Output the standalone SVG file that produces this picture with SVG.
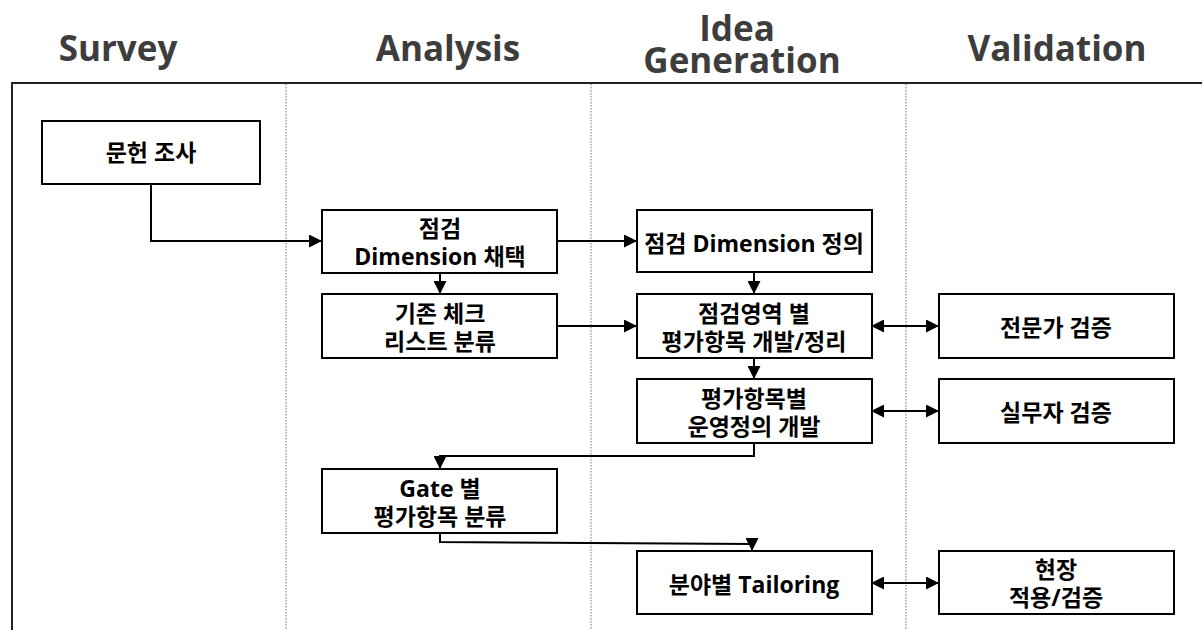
<svg xmlns="http://www.w3.org/2000/svg" width="1202" height="630" viewBox="0 0 1202 630">
<style>
.hdr{font-family:"Open Sans","Noto Sans CJK KR",sans-serif;font-weight:700;font-size:35px;fill:#3d3d3d;text-anchor:middle}
.box{fill:#fff;stroke:#000;stroke-width:2}
.lbl{font-family:"Open Sans","Noto Sans CJK KR",sans-serif;font-weight:700;font-size:23px;fill:#000;text-anchor:middle}
.con{fill:none;stroke:#000;stroke-width:2}
.dot{stroke:#8a8a8a;stroke-width:1.2;stroke-dasharray:1.5 1.5}
</style>
<defs>
<marker id="ah" markerUnits="userSpaceOnUse" markerWidth="13" markerHeight="13" viewBox="0 0 13 13" refX="12" refY="6.5" orient="auto-start-reverse">
<path d="M0,0 L13,6.5 L0,13 z" fill="#000"/>
</marker>
</defs>
<rect width="1202" height="630" fill="#fff"/>
<g id="headers">
<text class="hdr" x="118" y="61">Survey</text>
<text class="hdr" x="448" y="61">Analysis</text>
<text class="hdr" x="737" y="41">Idea</text>
<text class="hdr" x="742" y="73">Generation</text>
<text class="hdr" x="1057" y="61">Validation</text>
</g>
<g id="frame">
<path d="M12,630 V83 H1202" fill="none" stroke="#222" stroke-width="2"/>
<line class="dot" x1="286" y1="84" x2="286" y2="630"/>
<line class="dot" x1="591" y1="84" x2="591" y2="630"/>
<line class="dot" x1="906" y1="84" x2="906" y2="630"/>
</g>
<g id="connectors">
<path class="con" d="M151,184 V241 H321" marker-end="url(#ah)"/>
<path class="con" d="M557,241 H636" marker-end="url(#ah)"/>
<path class="con" d="M440,273 V293" marker-end="url(#ah)"/>
<path class="con" d="M557,326 H636" marker-end="url(#ah)"/>
<path class="con" d="M754,272 V293" marker-end="url(#ah)"/>
<path class="con" d="M754,358 V378" marker-end="url(#ah)"/>
<path class="con" d="M872,326 H938" marker-start="url(#ah)" marker-end="url(#ah)"/>
<path class="con" d="M872,411 H938" marker-start="url(#ah)" marker-end="url(#ah)"/>
<path class="con" d="M754,443 V456 H440 V468" marker-end="url(#ah)"/>
<path class="con" d="M440,533 V542 L752,544 V550" marker-end="url(#ah)"/>
<path class="con" d="M872,583 H938" marker-start="url(#ah)" marker-end="url(#ah)"/>
</g>
<g id="n-literature">
<rect class="box" x="42" y="121" width="218" height="63"/>
<text class="lbl" x="151" y="161">문헌 조사</text>
</g>
<g id="n-adopt">
<rect class="box" x="322" y="210" width="235" height="63"/>
<text class="lbl" x="440" y="237">점검</text>
<text class="lbl" x="440" y="265">Dimension 채택</text>
</g>
<g id="n-classify">
<rect class="box" x="322" y="294" width="235" height="64"/>
<text class="lbl" x="440" y="321.5">기존 체크</text>
<text class="lbl" x="440" y="349.5">리스트 분류</text>
</g>
<g id="n-define">
<rect class="box" x="637" y="210" width="235" height="62"/>
<text class="lbl" x="754" y="252">점검 Dimension 정의</text>
</g>
<g id="n-develop">
<rect class="box" x="637" y="294" width="235" height="64"/>
<text class="lbl" x="754" y="321.5">점검영역 별</text>
<text class="lbl" x="754" y="349.5">평가항목 개발/정리</text>
</g>
<g id="n-operational">
<rect class="box" x="637" y="379" width="235" height="64"/>
<text class="lbl" x="754" y="406.5">평가항목별</text>
<text class="lbl" x="754" y="434.5">운영정의 개발</text>
</g>
<g id="n-expert">
<rect class="box" x="939" y="294" width="235" height="64"/>
<text class="lbl" x="1056" y="336">전문가 검증</text>
</g>
<g id="n-practitioner">
<rect class="box" x="939" y="379" width="235" height="64"/>
<text class="lbl" x="1056" y="421">실무자 검증</text>
</g>
<g id="n-gate">
<rect class="box" x="322" y="469" width="235" height="64"/>
<text class="lbl" x="440" y="496.5">Gate 별</text>
<text class="lbl" x="440" y="524.5">평가항목 분류</text>
</g>
<g id="n-tailoring">
<rect class="box" x="637" y="551" width="235" height="63"/>
<text class="lbl" x="754" y="593">분야별 Tailoring</text>
</g>
<g id="n-field">
<rect class="box" x="939" y="551" width="235" height="63"/>
<text class="lbl" x="1056" y="578">현장</text>
<text class="lbl" x="1056" y="606">적용/검증</text>
</g>
</svg>
